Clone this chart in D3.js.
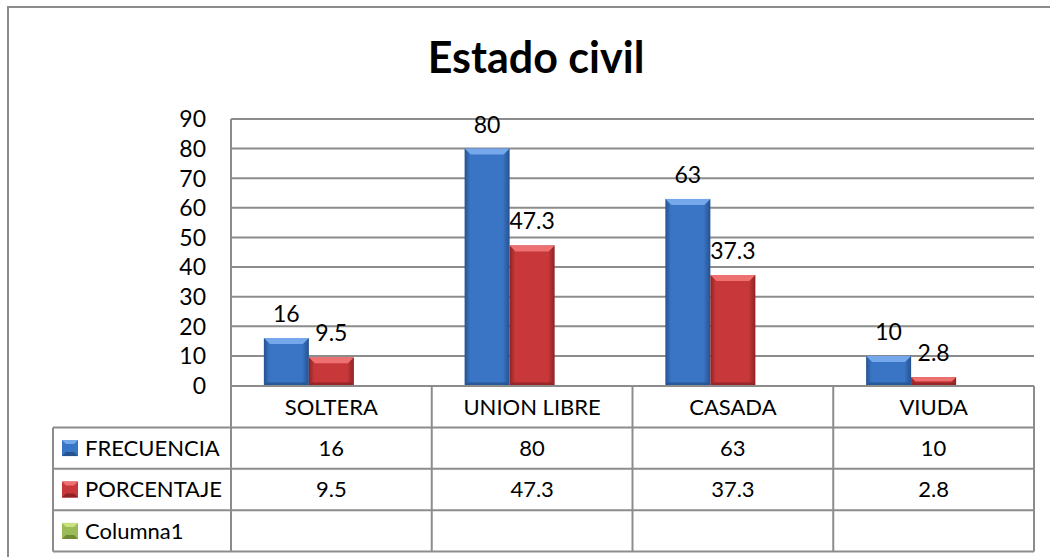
<!DOCTYPE html>
<html>
<head>
<meta charset="utf-8">
<script src="https://cdn.jsdelivr.net/npm/d3@7"></script>
<style>
  body { margin: 0; background: #fff; }
  text { font-family: Lato, "Liberation Sans", sans-serif; fill: #000; }
</style>
</head>
<body>
<svg id="svg1"></svg>
<script>

var categories = ["SOLTERA", "UNION LIBRE", "CASADA", "VIUDA"];
var series = ["FRECUENCIA", "PORCENTAJE", "Columna1"];
var frecuencia = [16, 80, 63, 10];
var porcentaje = [9.5, 47.3, 37.3, 2.8];
var columna1 = [null, null, null, null];
var yTicks = [0, 10, 20, 30, 40, 50, 60, 70, 80, 90];

var values = [frecuencia, porcentaje, columna1];
var colors = [
  {base: "#3a74c4", light: "#74a8ea", dark: "#24528f"},
  {base: "#c8383a", light: "#ee7070", dark: "#8e2224"},
  {base: "#9bbb59", light: "#c8e27e", dark: "#6f8a35"}
];

var width = 1050;
var height = 557;
var plot = {left: 231, right: 1034, top: 119, bottom: 385.5};
var rowH = 41.4;
var legendLeft = 53;
var gridColor = "#8c8c8c";

var svg = d3.select("#svg1")
    .attr("width", width)
    .attr("height", height);

// frame
svg.append("rect")
    .attr("x", 8).attr("y", 7)
    .attr("width", 1100).attr("height", 600)
    .attr("fill", "#fff")
    .attr("stroke", gridColor)
    .attr("stroke-width", 2);

// title
svg.append("text")
    .attr("x", 536).attr("y", 73)
    .attr("text-anchor", "middle")
    .style("font-size", "43px")
    .style("font-weight", "bold")
    .text("Estado civil");

var x = d3.scaleBand()
    .domain(categories)
    .range([plot.left, plot.right]);

var xs = d3.scaleBand()
    .domain(series)
    .range([0, x.bandwidth()])
    .paddingOuter(0.73);

var y = d3.scaleLinear()
    .domain([0, 90])
    .range([plot.bottom, plot.top]);

// gridlines
svg.append("g")
  .selectAll("line")
  .data(yTicks.filter(function (d) { return d > 0; }))
  .enter()
  .append("line")
    .attr("x1", plot.left).attr("x2", plot.right)
    .attr("y1", function (d) { return y(d); })
    .attr("y2", function (d) { return y(d); })
    .attr("stroke", gridColor)
    .attr("stroke-width", 2);

// y axis labels
svg.append("g")
  .selectAll("text")
  .data(yTicks)
  .enter()
  .append("text")
    .attr("x", 206)
    .attr("y", function (d) { return y(d); })
    .attr("dy", "0.36em")
    .attr("text-anchor", "end")
    .style("font-size", "23px")
    .text(function (d) { return d; });

// bars with bevel
var bevel = 6;
var bars = [];
values.forEach(function (vals, si) {
  vals.forEach(function (v, ci) {
    if (v === null) return;
    bars.push({s: si, c: ci, v: v});
  });
});

var defs = svg.append("defs");
colors.forEach(function (c, i) {
  var g = defs.append("linearGradient")
      .attr("id", "grad" + i)
      .attr("x1", "0").attr("x2", "1").attr("y1", "0").attr("y2", "0");
  g.append("stop").attr("offset", "0").attr("stop-color", c.dark);
  g.append("stop").attr("offset", "0.12").attr("stop-color", c.base);
  g.append("stop").attr("offset", "0.85").attr("stop-color", c.base);
  g.append("stop").attr("offset", "1").attr("stop-color", c.dark);
});

var barG = svg.append("g")
  .selectAll("g")
  .data(bars)
  .enter()
  .append("g");

function bx(d) { return x(categories[d.c]) + xs(series[d.s]); }

barG.append("rect")
    .attr("x", bx)
    .attr("y", function (d) { return y(d.v); })
    .attr("width", xs.bandwidth())
    .attr("height", function (d) { return y(0) - y(d.v); })
    .attr("fill", function (d) { return "url(#grad" + d.s + ")"; });

// top bevel
barG.append("path")
    .attr("d", function (d) {
      var x0 = bx(d), x1 = x0 + xs.bandwidth(), t = y(d.v);
      var b = Math.min(bevel, (y(0) - t) / 2);
      return "M" + x0 + "," + t + "L" + x1 + "," + t +
             "L" + (x1 - b) + "," + (t + b) + "L" + (x0 + b) + "," + (t + b) + "Z";
    })
    .attr("fill", function (d) { return colors[d.s].light; });

// bottom bevel
barG.append("path")
    .attr("d", function (d) {
      var x0 = bx(d), x1 = x0 + xs.bandwidth(), bt = y(0), t = y(d.v);
      var b = Math.min(3, (bt - t) / 2);
      return "M" + x0 + "," + bt + "L" + x1 + "," + bt +
             "L" + (x1 - b) + "," + (bt - b) + "L" + (x0 + b) + "," + (bt - b) + "Z";
    })
    .attr("fill", function (d) { return colors[d.s].dark; })
    .attr("opacity", 0.8);

// data labels
svg.append("g")
  .selectAll("text")
  .data(bars)
  .enter()
  .append("text")
    .attr("x", function (d) { return bx(d) + xs.bandwidth() / 2; })
    .attr("y", function (d) { return y(d.v) - 16; })
    .attr("text-anchor", "middle")
    .style("font-size", "23px")
    .text(function (d) { return d.v; });

// data table
var t0 = plot.bottom + 0.5;
var tableBottom = t0 + rowH * 4;
var table = svg.append("g")
    .attr("stroke", gridColor)
    .attr("stroke-width", 2);

// left vertical of plot, down through table
table.append("line")
    .attr("x1", plot.left).attr("x2", plot.left)
    .attr("y1", plot.top).attr("y2", tableBottom);

table.append("line")
    .attr("x1", plot.left).attr("x2", plot.right)
    .attr("y1", t0).attr("y2", t0);

table.selectAll(".row")
  .data(d3.range(1, 5))
  .enter()
  .append("line")
    .attr("x1", legendLeft).attr("x2", plot.right)
    .attr("y1", function (i) { return t0 + rowH * i; })
    .attr("y2", function (i) { return t0 + rowH * i; });

table.append("line")
    .attr("x1", legendLeft).attr("x2", legendLeft)
    .attr("y1", t0 + rowH).attr("y2", tableBottom);

table.selectAll(".col")
  .data(categories)
  .enter()
  .append("line")
    .attr("x1", function (d) { return x(d) + x.bandwidth(); })
    .attr("x2", function (d) { return x(d) + x.bandwidth(); })
    .attr("y1", t0).attr("y2", tableBottom);

// category labels
svg.append("g")
  .selectAll("text")
  .data(categories)
  .enter()
  .append("text")
    .attr("x", function (d) { return x(d) + x.bandwidth() / 2; })
    .attr("y", t0 + rowH / 2)
    .attr("dy", "0.36em")
    .attr("text-anchor", "middle")
    .style("font-size", "22px")
    .text(function (d) { return d; });

// rows of values
series.forEach(function (s, si) {
  var cy = t0 + rowH * (si + 1) + rowH / 2;
  var row = svg.append("g");
  // legend key
  var kx = 62, ky = cy - 8, k = 16, kb = 4;
  row.append("rect")
      .attr("x", kx).attr("y", ky).attr("width", k).attr("height", k)
      .attr("fill", colors[si].base);
  row.append("path")
      .attr("d", "M" + kx + "," + ky + "L" + (kx + k) + "," + ky +
                 "L" + (kx + k - kb) + "," + (ky + kb) + "L" + (kx + kb) + "," + (ky + kb) + "Z")
      .attr("fill", colors[si].light);
  row.append("path")
      .attr("d", "M" + kx + "," + (ky + k) + "L" + (kx + k) + "," + (ky + k) +
                 "L" + (kx + k - kb) + "," + (ky + k - kb) + "L" + (kx + kb) + "," + (ky + k - kb) + "Z")
      .attr("fill", colors[si].dark);
  row.append("text")
      .attr("x", 85).attr("y", cy)
      .attr("dy", "0.36em")
      .style("font-size", "22px")
      .text(s);
  row.selectAll(".v")
    .data(values[si])
    .enter()
    .append("text")
      .attr("x", function (d, i) { return x(categories[i]) + x.bandwidth() / 2; })
      .attr("y", cy)
      .attr("dy", "0.36em")
      .attr("text-anchor", "middle")
      .style("font-size", "22px")
      .text(function (d) { return d === null ? "" : d; });
});

</script>
</body>
</html>
